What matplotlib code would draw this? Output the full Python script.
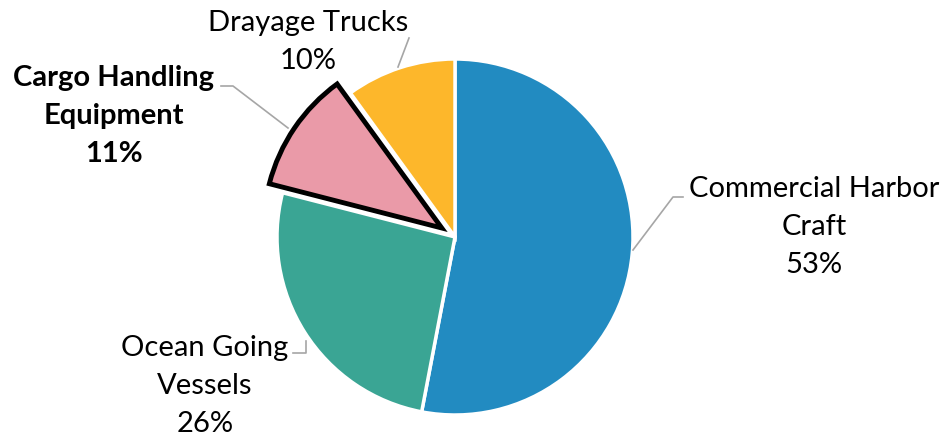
import matplotlib.pyplot as plt

# data
categories = ['Commercial Harbor\nCraft', 'Ocean Going\nVessels', 'Cargo Handling\nEquipment', 'Drayage Trucks']
shares = [53, 26, 11, 10]
colors = ['#228BC1', '#3AA594', '#EA9AA8', '#FDB72B']

W, H = 944, 436
CX, CY, R = 455, 237, 178


def px(x, y):
    # pixel position -> data coords (pie radius 1)
    return (x - CX) / R, (CY - y) / R


plt.rcParams['font.family'] = ['Lato', 'DejaVu Sans']

fig = plt.figure(figsize=(W / 100, H / 100), dpi=100)
ax = fig.add_axes([0, 0, 1, 1])

wedges, _ = ax.pie(shares, colors=colors, startangle=90, counterclock=False,
                   explode=[0, 0, 0.09, 0], radius=1,
                   wedgeprops=dict(edgecolor='white', linewidth=2.5))
wedges[2].set_edgecolor('black')
wedges[2].set_linewidth(3.5)
wedges[2].set_joinstyle('miter')
wedges[2].set_zorder(3)

ax.set_xlim(-CX / R, (W - CX) / R)
ax.set_ylim(-(H - CY) / R, CY / R)
ax.set_aspect('auto')
ax.axis('off')

fs = 21
line_col = '#A6A6A6'

# label positions (pixels) and leader lines
labels = [
    (814, 227, [(683, 197), (673, 197), (633, 250)], 'normal'),
    (205, 386, [(293, 353), (306, 353), (306, 341)], 'normal'),
    (114, 116, [(221, 86), (233, 86), (288, 128)], 'bold'),
    (308, 42, [(398, 67), (409, 38)], 'normal'),
]

for (lx, ly, pts, weight), cat, val in zip(labels, categories, shares):
    x, y = px(lx, ly)
    ax.text(x, y, f'{cat}\n{val}%', ha='center', va='center', fontsize=fs,
            fontweight=weight, linespacing=1.58)
    xs, ys = zip(*[px(a, b) for a, b in pts])
    ax.plot(xs, ys, color=line_col, lw=1.2, zorder=1)

fig.savefig('out.png', dpi=100)
